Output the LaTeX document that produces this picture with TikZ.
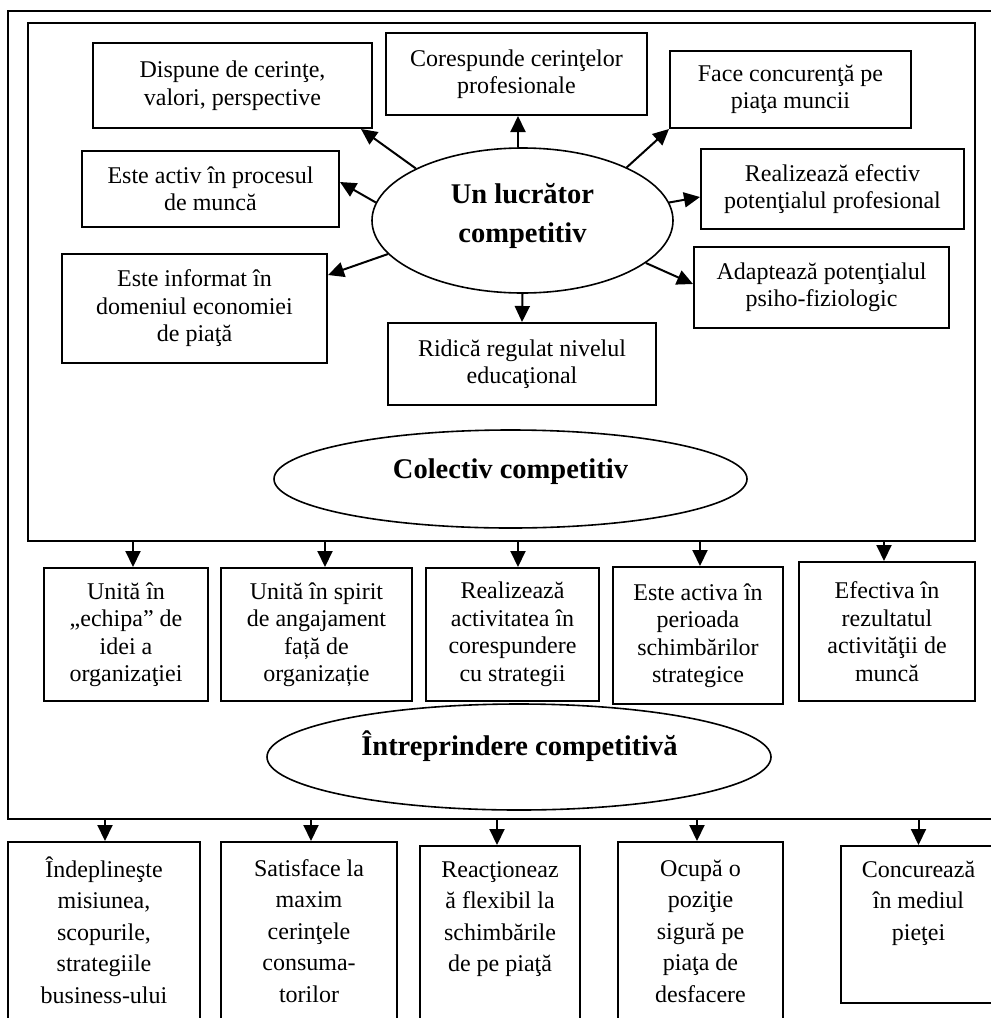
\documentclass[tikz,border=0pt]{standalone}
\usepackage{fontspec}
\setmainfont{Liberation Serif}
\usetikzlibrary{arrows.meta,calc,shapes.geometric}

\newcommand\normaltext{\fontsize{24}{27.5}\selectfont}
\newcommand\tallrows{\fontsize{24}{31.5}\selectfont}
\newcommand\headtext{\fontsize{28.5}{39}\selectfont\bfseries}

% box given by its corners (x1,y1)-(x2,y2) in pixel-like units
\newcommand\boxnode[6]{%
  \node[box, minimum width={(#4-#2)*1pt}, minimum height={(#5-#3)*1pt}]
    (#1) at ({(#2+#4)/2},{(#3+#5)/2}) {#6};}
\newcommand\ovalnode[5]{%
  \node[oval, minimum width={#4*1pt}, minimum height={#5*1pt}]
    (#1) at (#2,#3) {};}

\tikzset{
  box/.style={draw, line width=2pt, inner sep=0pt, align=center, font=\normaltext},
  oval/.style={draw, ellipse, line width=1.6pt, inner sep=0pt},
  frame/.style={draw, inner sep=0pt},
  lowtext/.style={inner sep=0pt, anchor=north, align=center, font=\tallrows},
  head/.style={inner sep=0pt, align=center, font=\headtext},
  arr/.style={line width=2pt, -{Triangle[length=16pt,width=15pt]}},
}

\begin{document}
\begin{tikzpicture}[x=1pt, y=-1pt]
\useasboundingbox (0,0) rectangle (991,1018);
\begin{scope}
\clip (0,0) rectangle (991,1018);

% frames
\node[frame, line width=1.5pt, minimum width=988pt, minimum height=808pt] (outer) at (502,415) {};
\node[frame, line width=2pt, minimum width=947pt, minimum height=518pt] (inner) at (501.5,282) {};

% the competitive worker
\ovalnode{worker}{522.5}{220.5}{301}{145}
\node[head] (workertxt) at (522.5,216) {Un lucrător\\competitiv};

\boxnode{d1}{93}{43}{372}{128}{Dispune de cerinţe,\\valori, perspective}
\boxnode{c2}{386}{33}{647}{115}{Corespunde cerinţelor\\profesionale}
\boxnode{f3}{670}{51}{911}{128}{Face concurenţă pe\\piaţa muncii}
\boxnode{a4}{82}{151}{339}{227}{Este activ în procesul\\de muncă}
\boxnode{r5}{701}{149}{964}{229}{Realizează efectiv\\potenţialul profesional}
\boxnode{i6}{62}{254}{327}{363}{Este informat în\\domeniul economiei\\de piaţă}
\boxnode{p7}{694}{247}{949}{328}{Adaptează potenţialul\\psiho-fiziologic}
\boxnode{e8}{388}{323}{656}{405}{Ridică regulat nivelul\\educaţional}

\draw[arr] (worker.154.6) -- ([xshift=-12pt]d1.south east);
\draw[arr] ([xshift=1.5pt]c2.south |- worker.north) -- ([xshift=1.5pt]c2.south);
\draw[arr] (worker.27.6) -- (f3.south west);
\draw[arr] (worker.173) -- ([yshift=7pt]a4.east);
\draw[arr] (worker.7.2) -- ([yshift=-8pt]r5.west);
\draw[arr] (worker.194) -- ([yshift=-22pt]i6.north east);
\draw[arr] (worker.341.3) -- ([yshift=-38pt]p7.north west);
\draw[arr] (worker.south) -- (e8.north);

% the competitive team
\ovalnode{team}{510.5}{479}{473}{98}
\node[head, anchor=base] (teamtxt) at (510.5,478) {Colectiv competitiv};

\boxnode{u1}{44}{568}{208}{701}{Unită în\\„echipa” de\\idei a\\organizaţiei}
\boxnode{u2}{221}{568}{412}{701}{Unită în spirit\\de angajament\\față de\\organizație}
\boxnode{u3}{426}{568}{599}{701}{Realizează\\activitatea în\\corespundere\\cu strategii}
\boxnode{u4}{613}{567}{783}{704}{Este activa în\\perioada\\schimbărilor\\strategice}
\boxnode{u5}{799}{562}{975}{701}{Efectiva în\\rezultatul\\activităţii de\\muncă}

\draw[arr] ([xshift=7pt]u1.north |- inner.south) -- ([xshift=7pt]u1.north);
\draw[arr] ([xshift=8.5pt]u2.north |- inner.south) -- ([xshift=8.5pt]u2.north);
\draw[arr] ([xshift=5.5pt]u3.north |- inner.south) -- ([xshift=5.5pt]u3.north);
\draw[arr] ([xshift=2pt]u4.north |- inner.south) -- ([xshift=2pt]u4.north);
\draw[arr] ([xshift=-3pt]u5.north |- inner.south) -- ([xshift=-3pt]u5.north);

% the competitive enterprise
\ovalnode{firm}{519}{757}{504}{106}
\node[head, anchor=base] (firmtxt) at (519.5,755) {Întreprindere competitivă};

\boxnode{s1}{8}{842}{200}{1040}{}
\boxnode{s2}{221}{842}{397}{1040}{}
\boxnode{s3}{420}{846}{580}{1040}{}
\boxnode{s4}{618}{842}{783}{1040}{}
\boxnode{s5}{841}{846}{996}{1003}{}

\node[lowtext] (s1txt) at ([yshift=-14pt]s1.north) {\strut Îndeplineşte\\misiunea,\\scopurile,\\strategiile\\business-ului};
\node[lowtext] (s2txt) at ([yshift=-13pt]s2.north) {\strut Satisface la\\maxim\\cerinţele\\consuma-\\torilor};
\node[lowtext] (s3txt) at ([yshift=-10pt]s3.north) {\strut Reacţioneaz\\ă flexibil la\\schimbările\\de pe piaţă};
\node[lowtext] (s4txt) at ([yshift=-13pt]s4.north) {\strut Ocupă o\\poziţie\\sigură pe\\piaţa de\\desfacere};
\node[lowtext] (s5txt) at ([yshift=-10pt]s5.north) {\strut Concurează\\în mediul\\pieţei};

\draw[arr] ([xshift=1pt]s1.north |- outer.south) -- ([xshift=1pt]s1.north);
\draw[arr] ([xshift=2pt]s2.north |- outer.south) -- ([xshift=2pt]s2.north);
\draw[arr] ([xshift=-3pt]s3.north |- outer.south) -- ([xshift=-3pt]s3.north);
\draw[arr] ([xshift=-3.5pt]s4.north |- outer.south) -- ([xshift=-3.5pt]s4.north);
\draw[arr] (s5.north |- outer.south) -- (s5.north);
\end{scope}
\end{tikzpicture}
\end{document}
